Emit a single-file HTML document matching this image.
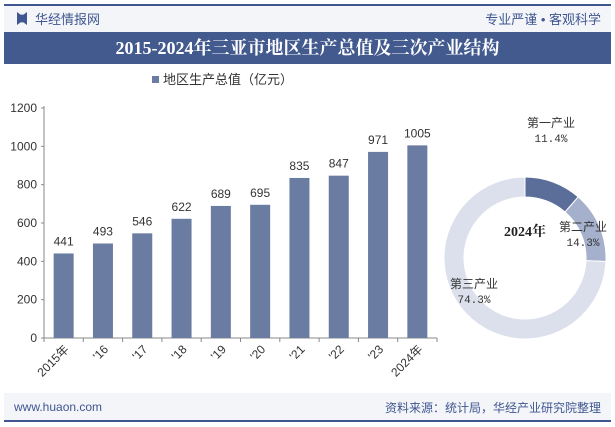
<!DOCTYPE html>
<html><head><meta charset="utf-8"><style>
body{margin:0;width:615px;height:427px;overflow:hidden;background:#fff;font-family:"Liberation Sans","Noto Sans CJK SC",sans-serif;position:relative}
.abs{position:absolute}
</style></head><body>
<div class="abs" style="left:4px;top:4px;width:607px;height:29px;background:#f3f5f9;border-top:2px solid #3f5690"></div>
<div class="abs" style="left:17px;top:12px;width:10px;height:13px;background:#3f5690;clip-path:polygon(0 0,35% 20%,65% 20%,100% 0,100% 100%,65% 80%,35% 80%,0 100%)"></div>
<div class="abs" style="left:35px;top:9px;font-size:13px;color:#3f5690">华经情报网</div>
<div class="abs" style="right:14px;top:9px;font-size:13px;color:#3f5690">专业严谨 • 客观科学</div>
<div class="abs" style="left:4px;top:32px;width:607px;height:32px;background:#435a8f;color:#fff;font:bold 18px 'Liberation Serif','Noto Serif CJK SC',serif;text-align:center;line-height:32px">2015-2024年三亚市地区生产总值及三次产业结构</div>
<div class="abs" style="left:4px;top:393px;width:607px;height:27px;background:#f3f5f9;border-bottom:2px solid #3f5690"></div>
<div class="abs" style="left:14px;top:400px;font-size:12px;color:#3f5690">www.huaon.com</div>
<div class="abs" style="right:14px;top:399px;font-size:12px;color:#3f5690">资料来源：统计局，华经产业研究院整理</div>
<svg class="abs" style="left:0;top:0" width="615" height="427" id="chart"></svg>
<script>
const years=["2015年","'16","'17","'18","'19","'20","'21","'22","'23","2024年"];
const gdp=[441,493,546,622,689,695,835,847,971,1005];
const yTicks=[0,200,400,600,800,1000,1200];
const shareLabels=["第一产业","第二产业","第三产业"];
const shares=[11.4,14.3,74.3];
const NS="http://www.w3.org/2000/svg";
const svg=document.getElementById('chart');
function mk(t,a,txt){const e=document.createElementNS(NS,t);for(const k in a)e.setAttribute(k,a[k]);if(txt!==undefined)e.textContent=txt;svg.appendChild(e);return e;}
const x0=44,x1=437,y0=338,yTop=108,ymax=1200;
const y=v=>y0-(v/ymax)*(y0-yTop);
const bw=(x1-x0)/years.length;
const xc=i=>x0+bw*(i+0.5);
let a=mk('line',{x1:x0,y1:yTop-2,x2:x0,y2:y0,stroke:'#888'});

a=mk('line',{x1:x0,y1:y0,x2:x1,y2:y0,stroke:'#888'});

yTicks.forEach(v=>{mk('line',{x1:x0-3,y1:y(v),x2:x0,y2:y(v),stroke:'#888'});
const t=mk('text',{x:x0-7,y:y(v)+4,'text-anchor':'end','font-size':12,fill:'#333'},v);
});
for(let i=0;i<=years.length;i++)mk('line',{x1:x0+bw*i,y1:y0,x2:x0+bw*i,y2:y0+4,stroke:'#888'});
years.forEach((yr,i)=>{
const b=mk('rect',{x:xc(i)-10,y:y(gdp[i]),width:20,height:y0-y(gdp[i]),fill:'#6a7ca2'});

const l=mk('text',{x:xc(i),y:y(gdp[i])-8,'text-anchor':'middle','font-size':12,fill:'#333'},gdp[i]);

const t=mk('text',{x:xc(i)+6,y:y0+12,'text-anchor':'end','font-size':12,fill:'#333',transform:`rotate(-45 ${xc(i)+6} ${y0+12})`},yr);
});
let lg=mk('rect',{x:152,y:76,width:7,height:7,fill:'#6a7ca2'});

lg=mk('text',{x:163,y:84,'font-size':13,fill:'#333'},'地区生产总值（亿元）');

// donut
const cx=525,cy=258,R=81,r=61,cols=['#5b6e9a','#a5b1cc','#dbe0ec'];
let acc=0;
shares.forEach((s,i)=>{
const a0=acc/100*2*Math.PI,a1=(acc+s)/100*2*Math.PI;acc+=s;
const p=(ang,rad)=>[cx+rad*Math.sin(ang),cy-rad*Math.cos(ang)];
const lf=(a1-a0)>Math.PI?1:0;
const [ax,ay]=p(a0,R),[bx,by]=p(a1,R),[cx2,cy2]=p(a1,r),[dx,dy]=p(a0,r);
const e=mk('path',{d:`M${ax},${ay}A${R},${R} 0 ${lf} 1 ${bx},${by}L${cx2},${cy2}A${r},${r} 0 ${lf} 0 ${dx},${dy}Z`,fill:cols[i],stroke:'#fff','stroke-width':1});
});
let c=mk('text',{x:525,y:236,'font-size':14,'font-weight':'bold','text-anchor':'middle',fill:'#222','font-family':'Liberation Serif,Noto Serif CJK SC,serif'},'2024年');

const lp=[[551,127],[583,231],[474,288]];
shareLabels.forEach((n,i)=>{
const t=mk('text',{x:lp[i][0],y:lp[i][1],'font-size':12,'text-anchor':'middle',fill:'#333'},n);

const v=mk('text',{x:lp[i][0],y:lp[i][1]+15,'font-size':11,'text-anchor':'middle',fill:'#333','font-family':'Liberation Mono,monospace'},shares[i].toFixed(1)+'%');
});
</script>
</body></html>
